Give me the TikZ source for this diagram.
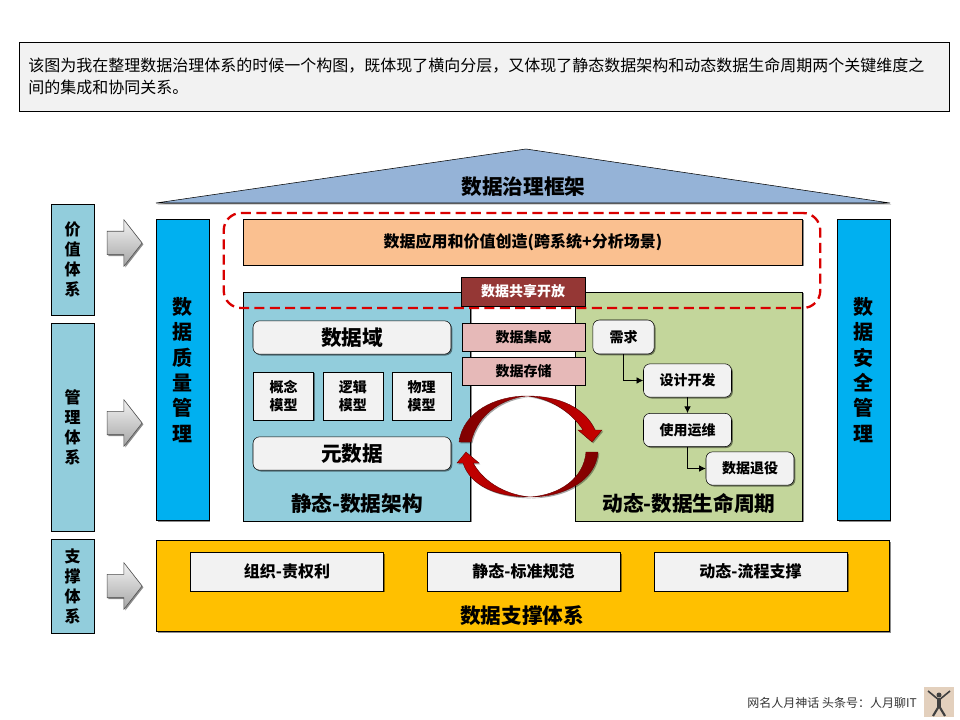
\documentclass[tikz,border=0pt]{standalone}
\usepackage{fontspec}
\setmainfont{Noto Sans CJK SC}
\usetikzlibrary{shapes,arrows,arrows.meta,positioning,shadows}
\definecolor{descfill}{HTML}{F2F2F2}
\definecolor{roofblue}{HTML}{95B3D7}
\definecolor{sideblue}{HTML}{92CDDC}
\definecolor{qualblue}{HTML}{00B0F0}
\definecolor{orangebar}{HTML}{FAC090}
\definecolor{greenpanel}{HTML}{C3D69B}
\definecolor{sharered}{HTML}{953735}
\definecolor{pinkbox}{HTML}{E6B9B8}
\definecolor{supportyellow}{HTML}{FFC000}
\definecolor{cycledark}{HTML}{7F0000}
\definecolor{cyclelight}{HTML}{C80000}
\tikzstyle{shade1} = [drop shadow={shadow xshift=1pt,shadow yshift=-1pt,opacity=0.45,fill=black}]
\tikzstyle{block} = [draw,rectangle,inner sep=0pt,align=center,shade1]
\tikzstyle{panel} = [block,fill=descfill]
\tikzstyle{round} = [panel,rounded corners=5pt]
\tikzstyle{side} = [block,fill=sideblue,minimum width=32pt,font=\fontsize{12}{15}\selectfont\bfseries]
\tikzstyle{pillar} = [block,fill=qualblue,minimum width=39.5pt,minimum height=226pt,font=\fontsize{15}{19}\selectfont\bfseries]
\tikzstyle{stage} = [round,minimum width=66pt,minimum height=25pt,font=\fontsize{10.5}{13}\selectfont\bfseries]
\tikzstyle{model} = [panel,minimum width=45pt,minimum height=36pt,font=\fontsize{10.5}{13.5}\selectfont\bfseries]
\tikzstyle{flow} = [round,minimum width=148.5pt,minimum height=25pt,font=\fontsize{15.5}{19}\selectfont\bfseries]
\tikzstyle{mid} = [block,fill=pinkbox,minimum width=92pt,minimum height=21pt,font=\fontsize{10.5}{13}\selectfont\bfseries]
\tikzstyle{support} = [panel,minimum width=145pt,minimum height=29pt,font=\fontsize{12}{15}\selectfont\bfseries]
\tikzstyle{title} = [inner sep=0pt,font=\fontsize{15.5}{19}\selectfont\bfseries]
\tikzstyle{gray arrow} = [draw=black!70,single arrow,single arrow tip angle=104,single arrow head extend=8.6pt,single arrow head indent=0pt,minimum height=26.25pt,inner xsep=0pt,inner ysep=8.6pt,top color=descfill,bottom color=black!35,shade1]
\tikzstyle{cycle arrow} = [draw=black!60!red,line width=0.3pt,drop shadow={shadow xshift=1pt,shadow yshift=-1pt,opacity=0.35,fill=black}]

\begin{document}
\begin{tikzpicture}[x=0.75pt,y=-0.75pt,auto,node distance=52pt]
  \useasboundingbox (0,0) rectangle (960,720);

  %description
  \node[panel,minimum width=697.5pt,minimum height=51.75pt] (desc) at (484,76.5) {};
  \node[right,inner sep=0pt,align=left,font=\fontsize{12}{16.5}\selectfont] (desctext) at (28,76.5)
    {该图为我在整理数据治理体系的时候一个构图，既体现了横向分层，又体现了静态数据架构和动态数据生命周期两个关键维度之\\间的集成和协同关系。};

  %roof
  \coordinate (roofl) at (156,203);
  \coordinate (rooft) at (526,149);
  \coordinate (roofr) at (890,203);
  \draw[fill=roofblue,shade1] (roofl) -- (rooft) -- (roofr) -- cycle;
  \node[title] (rooftitle) at (523.5,187) {数据治理框架};

  %left labels
  \node[side,minimum height=83.25pt] (value) at (72.5,259.5) {价\\值\\体\\系};
  \node[side,minimum height=156pt] (manage) at (72.5,427) {管\\理\\体\\系};
  \node[side,minimum height=70.5pt] (supp) at (72.5,586) {支\\撑\\体\\系};

  %gray arrows
  \node[gray arrow] (arrow1) at (120,243) {};
  \node[gray arrow] (arrow2) at (120,423) {};
  \node[gray arrow] (arrow3) at (120,586) {};

  %pillars
  \node[pillar] (quality) at (182.5,370) {数\\据\\质\\量\\管\\理};
  \node[pillar] (security) at (863.5,370) {数\\据\\安\\全\\管\\理};

  %value bar
  \node[block,fill=orangebar,minimum width=419.5pt,minimum height=34.5pt,font=\fontsize{12}{15}\selectfont\bfseries] (app) at (523,242)
    {数据应用和价值创造(跨系统+分析场景)};

  %static panel
  \node[block,fill=sideblue,minimum width=170.5pt,minimum height=171.5pt] (static) at (357,406.5) {};
  \node[flow] (domain) at (352,337.5) {数据域};
  \node[model] (concept) at (283.5,396) {概念\\模型};
  \node[model,right of=concept] (logic) {逻辑\\模型};
  \node[model,right of=logic,minimum width=44pt,node distance=51.5pt] (physical) {物理\\模型};
  \node[flow] (meta) at (352,453.5) {元数据};
  \node[title] (statictitle) at (357,504) {静态-数据架构};

  %dynamic panel
  \node[block,fill=greenpanel,minimum width=170.5pt,minimum height=171.5pt] (dynamic) at (689,406.5) {};
  \node[round,minimum width=46pt,minimum height=25.5pt,font=\fontsize{10.5}{13}\selectfont\bfseries] (need) at (623.5,337) {需求};
  \node[stage] (design) at (687.5,380.5) {设计开发};
  \node[stage] (operate) at (687.5,430) {使用运维};
  \node[stage] (retire) at (750,468.5) {数据退役};
  \node[title] (dynamictitle) at (689,504) {动态-数据生命周期};

  %dashed frame
  \node[draw=red!85!black,dash pattern=on 7.5pt off 4pt,line width=1.75pt,rounded corners=13pt,minimum width=447.4pt,minimum height=71.25pt] (frame) at (522,260.5) {};

  %middle boxes
  \node[block,fill=sharered,text=white,minimum width=93pt,minimum height=21.75pt,font=\fontsize{10.5}{13}\selectfont\bfseries] (share) at (523,291.5) {数据共享开放};
  \node[mid] (integrate) at (523.5,337) {数据集成};
  \node[mid] (storage) at (523.5,371) {数据存储};

  %cycle
  \coordinate (c1) at (459,442);
  \coordinate (c2) at (471,442);
  \coordinate (c3) at (527,396);
  \coordinate (c4) at (583,430);
  \coordinate (c5) at (578,430);
  \coordinate (c6) at (592,442);
  \coordinate (c7) at (602,430);
  \coordinate (c8) at (595,430);
  \draw[cycle arrow,left color=cycledark,right color=cyclelight] (c1) .. controls (463,412) and (495,396) .. (c3)
    .. controls (560,396) and (585,408) .. (c8) -- (c7) -- (c6) -- (c5) -- (c4)
    .. controls (570,410) and (548,398) .. (c3) .. controls (505,398) and (478,412) .. (c2) -- cycle;
  \coordinate (d1) at (598,452);
  \coordinate (d2) at (586,452);
  \coordinate (d3) at (530,497);
  \coordinate (d4) at (473,463);
  \coordinate (d5) at (479,463);
  \coordinate (d6) at (466,452);
  \coordinate (d7) at (457,463);
  \coordinate (d8) at (463,463);
  \draw[cycle arrow,left color=cyclelight,right color=cycledark] (d1) .. controls (596,480) and (565,497) .. (d3)
    .. controls (495,497) and (470,485) .. (d8) -- (d7) -- (d6) -- (d5) -- (d4)
    .. controls (485,484) and (508,495) .. (d3) .. controls (560,495) and (584,478) .. (d2) -- cycle;

  %stage arrows
  \draw[-{Latex[length=5pt,width=5pt]},line width=0.6pt] (need) |- (design);
  \draw[-{Latex[length=5pt,width=5pt]},line width=0.6pt] (design) -- (operate);
  \draw[-{Latex[length=5pt,width=5pt]},line width=0.6pt] (operate) |- (retire);

  %support
  \node[block,fill=supportyellow,minimum width=550pt,minimum height=68.5pt] (base) at (523,586) {};
  \node[support] (org) at (287,571.5) {组织-责权利};
  \node[support] (standard) at (523.5,571.5) {静态-标准规范};
  \node[support] (process) at (750.5,571.5) {动态-流程支撑};
  \node[title] (basetitle) at (522,616) {数据支撑体系};

  %footer
  \node[left,inner sep=0pt,text=black!80,font=\fontsize{9}{11}\selectfont] (foot) at (917,703) {网名人月神话 头条号：人月聊IT};
  \node[rectangle,fill=brown!30!descfill,minimum width=22pt,minimum height=22.5pt,inner sep=0pt] (icon) at (939,702) {};
  \fill[black!75] (939,695) circle (2.5);
  \draw[black!75,line width=1.2pt] (939,700) -- (928,691);
  \draw[black!75,line width=1.2pt] (939,700) -- (950,691);
  \draw[black!75,line width=3pt] (939,698) -- (939,707);
  \draw[black!75,line width=1.6pt] (939,706) -- (933,716);
  \draw[black!75,line width=1.6pt] (939,706) -- (945,716);
\end{tikzpicture}
\end{document}
